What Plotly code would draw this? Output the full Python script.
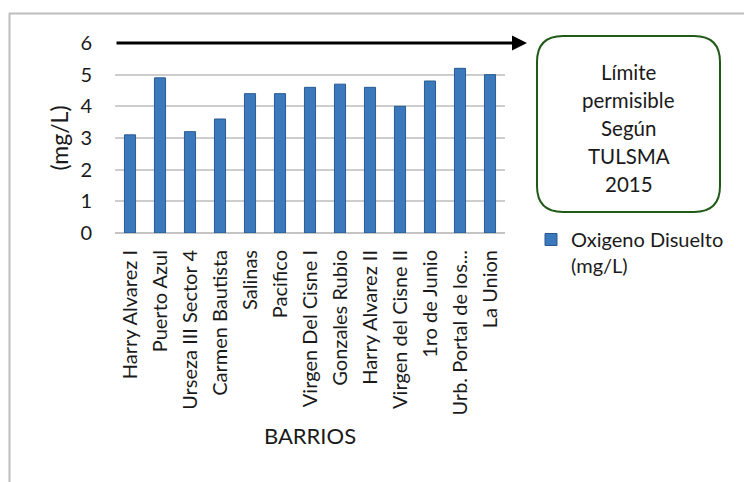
import plotly.graph_objects as go

# Oxígeno disuelto por barrio (mg/L)
barrios = [
    "Harry Alvarez I", "Puerto Azul", "Urseza III Sector 4", "Carmen Bautista",
    "Salinas", "Pacifico", "Virgen Del Cisne I", "Gonzales Rubio",
    "Harry Alvarez II", "Virgen del Cisne II", "1ro de Junio",
    "Urb. Portal de los...", "La Union",
]
oxigeno = [3.1, 4.9, 3.2, 3.6, 4.4, 4.4, 4.6, 4.7, 4.6, 4.0, 4.8, 5.2, 5.0]
limite = 6
y_ticks = [0, 1, 2, 3, 4, 5, 6]
box_lines = ["Límite", "permisible", "Según", "TULSMA", "2015"]

W, H = 744, 482
ML, MR, MT, MB = 115, 239, 43, 249
PW, PH = W - ML - MR, H - MT - MB
FONT = "Lato"
TXT = "#1a1a1a"


def px(x):
    return (x - ML) / PW


def py(y):
    return (H - MB - y) / PH


fig = go.Figure()
fig.add_trace(go.Bar(
    x=barrios, y=oxigeno, name="Oxigeno Disuelto<br>(mg/L)",
    width=0.37,
    marker=dict(color="#3b79bc", line=dict(color="#285a92", width=1)),
))

shapes = []
# outer frame (top and left edges)
shapes.append(dict(type="line", xref="paper", yref="paper",
                   x0=px(9), x1=px(744), y0=py(13.5), y1=py(13.5),
                   line=dict(color="#bdbdbd", width=2)))
shapes.append(dict(type="line", xref="paper", yref="paper",
                   x0=px(9.5), x1=px(9.5), y0=py(13), y1=py(482),
                   line=dict(color="#bdbdbd", width=2)))

# rounded box with the regulation note
bx0, bx1, by0, by1, r = 537, 720, 36, 212, 26
path = (
    f"M {px(bx0 + r)},{py(by0)} L {px(bx1 - r)},{py(by0)} "
    f"Q {px(bx1)},{py(by0)} {px(bx1)},{py(by0 + r)} "
    f"L {px(bx1)},{py(by1 - r)} "
    f"Q {px(bx1)},{py(by1)} {px(bx1 - r)},{py(by1)} "
    f"L {px(bx0 + r)},{py(by1)} "
    f"Q {px(bx0)},{py(by1)} {px(bx0)},{py(by1 - r)} "
    f"L {px(bx0)},{py(by0 + r)} "
    f"Q {px(bx0)},{py(by0)} {px(bx0 + r)},{py(by0)} Z"
)
shapes.append(dict(type="path", xref="paper", yref="paper", path=path,
                   line=dict(color="#1f5a17", width=2)))

annotations = []
# limit arrow at the permissible value
annotations.append(dict(
    x=px(527), xref="paper", y=limite, yref="y", text="",
    showarrow=True, ax=-(527 - 115), ay=0, axref="pixel", ayref="pixel",
    arrowhead=2, arrowsize=1, arrowwidth=3, arrowcolor="#000000",
))
for i, line in enumerate(box_lines):
    annotations.append(dict(
        x=px(628.5), xref="paper", y=py(72 + 28 * i), yref="paper",
        text=line, showarrow=False, xanchor="center", yanchor="middle",
        font=dict(family=FONT, size=20.5, color=TXT),
    ))

fig.update_layout(
    width=W, height=H,
    margin=dict(l=ML, r=MR, t=MT, b=MB, autoexpand=False),
    paper_bgcolor="white", plot_bgcolor="white",
    font=dict(family=FONT, size=20, color=TXT),
    showlegend=True,
    legend=dict(x=px(531), y=py(220), xanchor="left", yanchor="top",
                valign="top", tracegroupgap=0,
                font=dict(family=FONT, size=20, color=TXT),
                bgcolor="rgba(0,0,0,0)"),
    shapes=shapes,
    annotations=annotations,
    bargap=0.63,
)
fig.update_yaxes(
    range=[0, 6], tickvals=y_ticks, ticks="", showline=False,
    showgrid=True, gridcolor="#cdcdcd", gridwidth=1.6,
    zeroline=True, zerolinecolor="#c4c4c4", zerolinewidth=1.6,
    ticklabelstandoff=22,
    tickfont=dict(family=FONT, size=20, color=TXT),
    title=dict(text="(mg/L)", standoff=5,
               font=dict(family=FONT, size=23, color=TXT)),
    automargin=False,
)
fig.update_xaxes(
    tickangle=-90, ticks="", showline=False, showgrid=False,
    ticklabelstandoff=12,
    tickfont=dict(family=FONT, size=20, color=TXT),
    title=dict(text="BARRIOS", standoff=14,
               font=dict(family=FONT, size=22, color=TXT)),
    automargin=False,
)

fig.write_html("out.html")
